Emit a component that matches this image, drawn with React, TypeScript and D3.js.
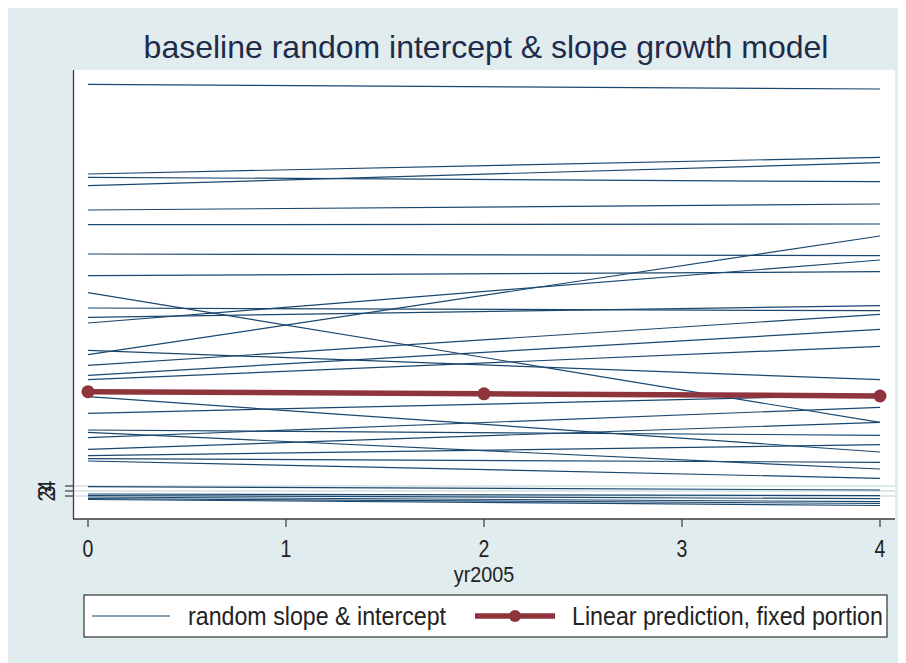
import React from "react";
import * as d3 from "d3";

const chartTitle = "baseline random intercept & slope growth model";
const xAxisTitle = "yr2005";
const xTicks = [0, 1, 2, 3, 4];
const yTicks = [2, 3, 4];
const yearRange = [0, 4];

// random slope & intercept lines: predicted value at yr2005 = 0 and yr2005 = 4
const randomStart = [
  84.34, 66.4, 65.74, 64.06, 59.2, 56.26, 50.4, 46.06, 42.66, 39.6, 37.74, 36.6, 30.26,
  31.14, 28.14, 26.14, 25.26, 21.86, 18.54, 15.2, 14.74, 13.66, 11.34, 10.06, 9.46, 9.0,
  3.86, 2.4, 2.1, 1.8, 1.5, 1.3,
];
const randomEnd = [
  83.4, 69.74, 64.86, 68.66, 60.4, 56.4, 50.06, 46.86, 16.74, 39.06, 40.06, 49.2, 54.0,
  25.26, 38.34, 35.34, 31.94, 10.8, 22.2, 14.14, 7.4, 19.74, 16.74, 12.26, 8.74, 5.54,
  3.2, 2.06, 1.46, 0.86, 0.5, 0.1,
];

// fixed portion of the linear prediction
const fixedYears = [0, 2, 4];
const fixedPrediction = [22.86, 22.44, 22.0];

const legendLabels = ["random slope & intercept", "Linear prediction, fixed portion"];

const NAVY = "#1a476f";
const MAROON = "#8e343d";
const BG = "#e1ecee";
const GRID = "#dde8eb";
const FONT = "'Liberation Sans', Arial, Helvetica, sans-serif";

export default function App() {
  const W = 898;
  const H = 655;
  const off = 8; // page coordinates -> svg coordinates
  const plot = { left: 73 - off, right: 895 - off, top: 70 - off, bottom: 519 - off };

  const x = d3.scaleLinear().domain([0, 4]).range([88 - off, 880 - off]);
  const y = d3.scaleLinear().domain([-2.6, 87.2]).range([plot.bottom, plot.top]);

  const line = d3
    .line<[number, number]>()
    .x((d) => x(d[0]))
    .y((d) => y(d[1]));

  const randomLines = randomStart.map((s, i) => [
    [yearRange[0], s],
    [yearRange[1], randomEnd[i]],
  ] as [number, number][]);

  const fixedPts = fixedYears.map((t, i) => [t, fixedPrediction[i]] as [number, number]);

  const legend = { x: 84 - off, y: 595 - off, w: 803, h: 42 };
  const legY = legend.y + legend.h / 2;

  return (
    <svg width={W} height={H} style={{ display: "block" }} fontFamily={FONT}>
      <rect x={0} y={0} width={W} height={H} fill={BG} />
      <text
        x={486 - off}
        y={58 - off}
        textAnchor="middle"
        fontSize={32}
        fill="#1e2b4a"
      >
        {chartTitle}
      </text>

      {/* plot region */}
      <rect
        x={plot.left}
        y={plot.top}
        width={plot.right - plot.left}
        height={plot.bottom - plot.top}
        fill="#ffffff"
      />

      {/* grid lines */}
      {yTicks.map((t) => (
        <line
          key={"g" + t}
          x1={plot.left + 2}
          x2={plot.right}
          y1={y(t)}
          y2={y(t)}
          stroke={GRID}
          strokeWidth={2}
        />
      ))}

      {/* random lines */}
      {randomLines.map((pts, i) => (
        <path key={"r" + i} d={line(pts) || ""} fill="none" stroke={NAVY} strokeWidth={1.2} />
      ))}

      {/* fixed portion */}
      <path d={line(fixedPts) || ""} fill="none" stroke={MAROON} strokeWidth={5.5} />
      {fixedPts.map((p, i) => (
        <circle key={"m" + i} cx={x(p[0])} cy={y(p[1])} r={6.5} fill={MAROON} />
      ))}

      {/* axes */}
      <line x1={plot.left + 0.5} x2={plot.left + 0.5} y1={plot.top} y2={plot.bottom} stroke="#3a3a3a" strokeWidth={1.3} />
      <line x1={plot.left} x2={plot.right} y1={plot.bottom} y2={plot.bottom} stroke="#3a3a3a" strokeWidth={1.3} />

      {xTicks.map((t) => (
        <g key={"xt" + t}>
          <line x1={x(t)} x2={x(t)} y1={plot.bottom} y2={plot.bottom + 8} stroke="#3a3a3a" strokeWidth={1.2} />
          <text
            transform={`translate(${x(t)},${557 - off}) scale(0.85,1)`}
            textAnchor="middle"
            fontSize={23}
            fill="#222"
          >
            {t}
          </text>
        </g>
      ))}
      <text
        transform={`translate(${x(2)},${582 - off}) scale(0.92,1)`}
        textAnchor="middle"
        fontSize={21.5}
        fill="#222"
      >
        {xAxisTitle}
      </text>

      {yTicks.map((t) => (
        <g key={"yt" + t}>
          <line x1={plot.left - 8} x2={plot.left} y1={y(t)} y2={y(t)} stroke="#3a3a3a" strokeWidth={1.2} />
          <text
            transform={`translate(${55 - off},${y(t)}) rotate(-90) scale(0.82,1)`}
            textAnchor="middle"
            fontSize={24}
            fill="#222"
          >
            {t}
          </text>
        </g>
      ))}

      {/* legend */}
      <rect x={legend.x} y={legend.y} width={legend.w} height={legend.h} fill="#fff" stroke="#333" strokeWidth={1.2} />
      <line x1={92 - off} x2={170 - off} y1={legY} y2={legY} stroke={NAVY} strokeWidth={1.2} />
      <text
        transform={`translate(${188 - off},${legY + 8.5}) scale(0.9,1)`}
        fontSize={25.8}
        fill="#222"
      >
        {legendLabels[0]}
      </text>
      <line x1={475 - off} x2={555 - off} y1={legY} y2={legY} stroke={MAROON} strokeWidth={5.5} />
      <circle cx={515 - off} cy={legY} r={6} fill={MAROON} />
      <text
        transform={`translate(${572 - off},${legY + 8.5}) scale(0.9,1)`}
        fontSize={25.8}
        fill="#222"
      >
        {legendLabels[1]}
      </text>
    </svg>
  );
}
